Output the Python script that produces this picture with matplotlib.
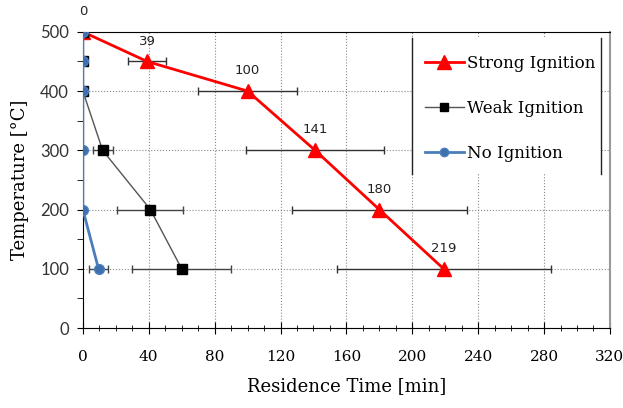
import matplotlib
matplotlib.use('Agg')
import matplotlib.pyplot as plt
from matplotlib.lines import Line2D
from matplotlib.patches import Rectangle

temps = [500, 450, 400, 300, 200, 100]

strong_time = [0, 39, 100, 141, 180, 219]
strong_err = [0, 11.5, 30, 42, 53, 65]

weak_time = [0, 0, 0, 12, 41, 60]
weak_err = [0, 0, 0, 6, 20, 30]

no_time = [0, 0, 0, 0, 0, 9.5]
no_err = [0, 0, 0, 0, 0, 6]

x_ticks = [0, 40, 80, 120, 160, 200, 240, 280, 320]
y_ticks = [0, 100, 200, 300, 400, 500]

serif = 'DejaVu Serif'

fig = plt.figure(figsize=(6.23, 4.08), dpi=100)
ax = fig.add_axes([0.133, 0.196, 0.846, 0.726])

ax.errorbar(strong_time, temps, xerr=strong_err, color='red', lw=2,
            marker='^', markersize=10, ecolor='#333333', elinewidth=1,
            capsize=3, label='Strong Ignition', zorder=3)
ax.errorbar(weak_time, temps, xerr=weak_err, color='#555555', lw=1,
            marker='s', markersize=7, mfc='black', mec='black',
            ecolor='#444444', elinewidth=1, capsize=3,
            label='Weak Ignition', zorder=4)
ax.errorbar(no_time, temps, xerr=no_err, color='#4a7ebb', lw=2,
            marker='o', markersize=7, mfc='#3f6fad', mec='#4a7ebb',
            ecolor='#444444', elinewidth=1, capsize=3,
            label='No Ignition', zorder=5)

for t, y in zip(strong_time, temps):
    ax.annotate(str(t), (t, y), xytext=(0, 10), textcoords='offset points',
                ha='center', va='bottom', fontsize=9.5, color='#222222',
                annotation_clip=False)

ax.set_xlim(0, 320)
ax.set_ylim(0, 500)
ax.set_xticks(x_ticks)
ax.set_yticks(y_ticks)
ax.set_xticks(range(0, 321, 10), minor=True)
ax.set_yticks(range(0, 501, 50), minor=True)
ax.grid(True, which='major', ls=':', color='#888888', lw=0.8)
ax.set_axisbelow(True)

ax.tick_params(axis='x', which='major', direction='inout', length=8,
               labelsize=11, pad=12)
ax.tick_params(axis='x', which='minor', direction='inout', length=5)
ax.tick_params(axis='y', which='both', direction='out', length=4,
               labelsize=12, pad=6)
for lbl in ax.get_xticklabels():
    lbl.set_family(serif)
for lbl in ax.get_yticklabels():
    lbl.set_family('Lato')
    lbl.set_color('#333333')

ax.spines['right'].set_color('#999999')
ax.spines['right'].set_linewidth(1.5)

ax.set_xlabel('Residence Time [min]', fontsize=13, family=serif, labelpad=9)
ax.set_ylabel('Temperature [°C]', fontsize=13, family=serif, labelpad=8)

# legend area: white box with vertical side lines
ax.add_patch(Rectangle((0.625, 0.52), 0.358, 0.46, transform=ax.transAxes,
                       facecolor='white', edgecolor='none', zorder=2))
ax.plot([0.625, 0.625], [0.52, 0.98], transform=ax.transAxes,
        color='#222222', lw=1, zorder=7)
ax.plot([0.983, 0.983], [0.52, 0.98], transform=ax.transAxes,
        color='#222222', lw=1, zorder=7)

handles = [
    Line2D([], [], color='red', lw=2, marker='^', markersize=10),
    Line2D([], [], color='#555555', lw=1, marker='s', markersize=6,
           mfc='black', mec='black'),
    Line2D([], [], color='#4a7ebb', lw=2, marker='o', markersize=6,
           mfc='#3f6fad', mec='#4a7ebb'),
]
leg = ax.legend(handles, ['Strong Ignition', 'Weak Ignition', 'No Ignition'],
                loc='upper left', bbox_to_anchor=(0.64, 0.94),
                frameon=False, labelspacing=1.7, handlelength=2.3,
                handletextpad=0.2, borderpad=0.3, borderaxespad=0,
                prop={'family': serif, 'size': 12})
leg.set_zorder(8)

fig.savefig('out.png', dpi=100)
